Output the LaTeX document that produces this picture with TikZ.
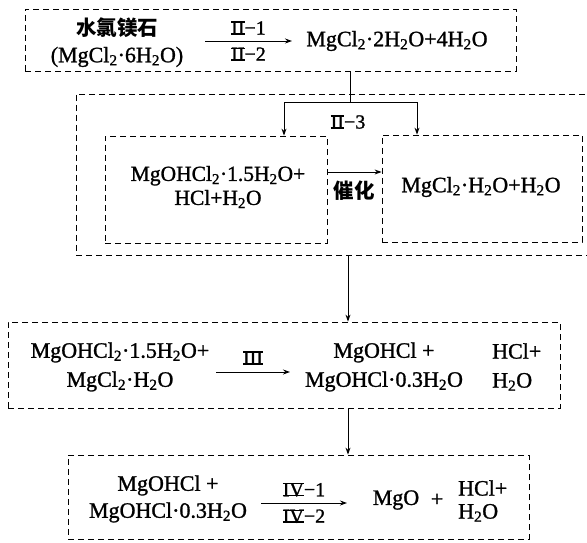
\documentclass[tikz,border=0pt]{standalone}
\usepackage{fontspec}
\setmainfont{Liberation Serif}[FakeBold=1.2]
\newfontfamily\cjk{Noto Sans CJK SC}
\usepackage{tikz}
\usetikzlibrary{arrows.meta,positioning,calc}

\newcommand{\sbt}[1]{\textsubscript{#1}}
% roman numeral with bars on top and bottom
\newcommand{\rn}[1]{\setbox0=\hbox{#1}\rlap{\rule{\wd0}{1.2pt}}\rlap{\rule[\dimexpr\ht0-1.2pt\relax]{\wd0}{1.2pt}}\box0}

\begin{document}
\begin{tikzpicture}[
  x=1pt, y=-1pt,
  box/.style={draw, line width=0.8pt, dash pattern=on 6pt off 4pt, inner sep=0pt},
  arrow/.style={-{Stealth[length=7pt, width=5pt]}, line width=0.9pt},
  link/.style={line width=0.9pt},
  chem/.style={font=\fontsize{22}{29}\selectfont, align=center, inner sep=0pt},
  cond/.style={font=\fontsize{20}{22}\selectfont, inner sep=0pt},
  zh/.style={font=\cjk\bfseries\fontsize{20.5}{29}\selectfont, inner sep=0pt},
]
  \useasboundingbox (0,0) rectangle (587,543);

  % Stage boxes
  \node[box, minimum width=491pt, minimum height=62pt] (stage1) at (270.5,40) {};
  \node[box, minimum width=524pt, minimum height=161pt] (stage2) at (338,174.5) {};
  \node[box, minimum width=222pt, minimum height=107pt] (subA) at (216,189.5) {};
  \node[box, minimum width=200pt, minimum height=107pt] (subB) at (482,188.5) {};
  \node[box, minimum width=552pt, minimum height=86pt] (stage3) at (284,365) {};
  \node[box, minimum width=461pt, minimum height=84pt] (stage4) at (298.5,497) {};

  % Stage 1
  \node[zh] (ore) at (117,28) {水氯镁石};
  \node[chem] (oreF) at (117,57) {(MgCl\sbt{2}·6H\sbt{2}O)};
  \node[chem] (prod1) at (397,41) {MgCl\sbt{2}·2H\sbt{2}O+4H\sbt{2}O};
  \coordinate (r1s) at (205,41);
  \coordinate (r1e) at (292,41);
  \draw[arrow] (r1s) -- (r1e)
    node[midway, above=6pt, cond] {\rn{II}−1}
    node[midway, below=6pt, cond] {\rn{II}−2};

  % Stage 2
  \node[chem, font=\fontsize{21.5}{24}\selectfont] (mixA) at (218,187)
    {MgOHCl\sbt{2}·1.5H\sbt{2}O+\\HCl+H\sbt{2}O};
  \node[chem] (prodB) at (481,187) {MgCl\sbt{2}·H\sbt{2}O+H\sbt{2}O};
  \node[cond] (ii3) at (348,122) {\rn{II}−3};
  \coordinate (fork) at (350,102);
  \draw[link] (stage1.south -| fork) -- (fork);
  \draw[arrow] (fork) -| ([xshift=68pt]subA.north);
  \draw[arrow] (fork) -| ([xshift=-65pt]subB.north);
  \coordinate (cat) at ([yshift=17.5pt]subA.east);
  \draw[arrow] (cat) -- (cat -| subB.west);
  \node[zh] (catal) at (354,191) {催化};

  % Stage 3
  \coordinate (drop) at (348,0);
  \draw[arrow] (stage2.south -| drop) -- (stage3.north -| drop);
  \node[chem] (mix3) at (120,367) {MgOHCl\sbt{2}·1.5H\sbt{2}O+\\MgCl\sbt{2}·H\sbt{2}O};
  \node[chem] (prod3) at (384,367) {MgOHCl +\\MgOHCl·0.3H\sbt{2}O};
  \node[chem, align=left, anchor=west] (gas3) at (492,367) {HCl+\\H\sbt{2}O};
  \coordinate (r3s) at (216,372);
  \coordinate (r3e) at (290,372);
  \draw[arrow] (r3s) -- (r3e) node[midway, above=7pt, cond] {\rn{III}};

  % Stage 4
  \draw[arrow] (stage3.south -| drop) -- (stage4.north -| drop);
  \node[chem, font=\fontsize{22}{27}\selectfont] (mix4) at (168,499) {MgOHCl +\\MgOHCl·0.3H\sbt{2}O};
  \node[chem] (mgo) at (396,500) {MgO};
  \node[chem] (plus4) at (437,500) {+};
  \node[chem, align=left, anchor=west, font=\fontsize{22}{23}\selectfont] (gas4) at (458,501) {HCl+\\H\sbt{2}O};
  \coordinate (r4s) at (261,503);
  \coordinate (r4e) at (347,503);
  \draw[arrow] (r4s) -- (r4e)
    node[midway, above=6pt, cond] {\rn{IV}−1}
    node[midway, below=6pt, cond] {\rn{IV}−2};
\end{tikzpicture}
\end{document}
